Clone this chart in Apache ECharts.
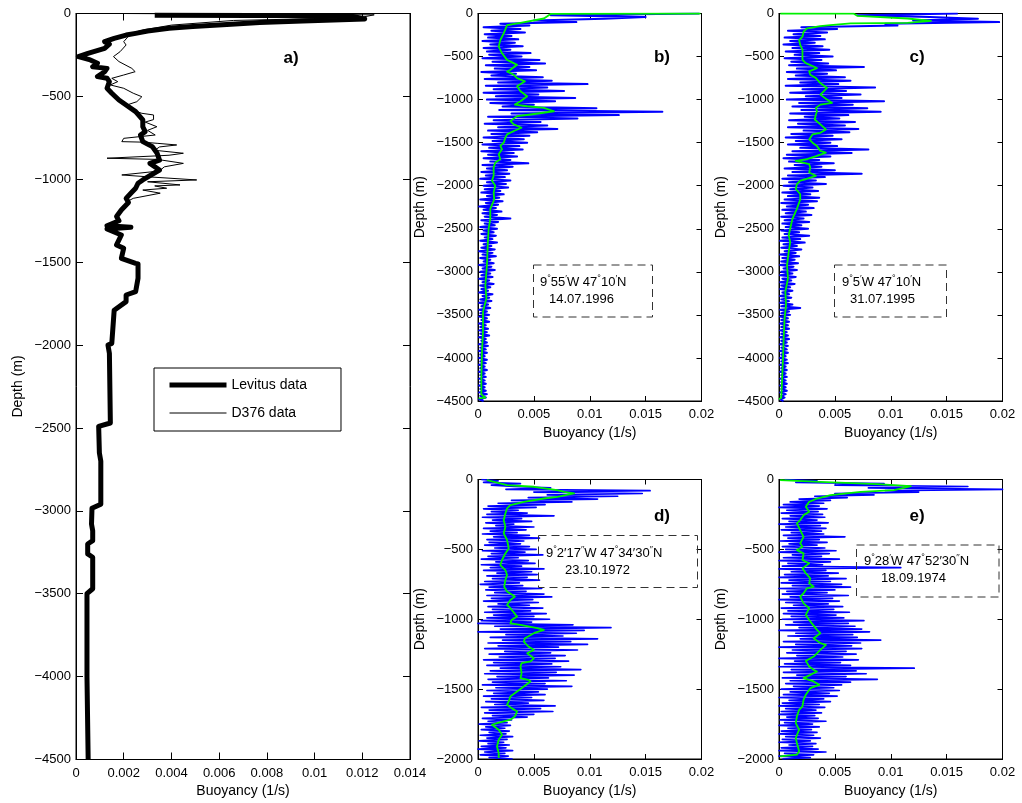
<!DOCTYPE html>
<html><head><meta charset="utf-8">
<script src="https://cdn.jsdelivr.net/npm/echarts@6/dist/echarts.min.js"></script>
<style>html,body{margin:0;padding:0;background:#fff}#c{width:1022px;height:803px}</style>
</head><body><div id="c"></div>
<script>
// All buoyancy values are in units of 1e-3 s^-1 (converted to 1/s when building series)
const DZ_DEEP = 20;     // sampling interval (m) used for panels b, c
const DZ_SHALLOW = 10;  // sampling interval (m) used for panels d, e

// panel a) Levitus climatology
const levitusVal = [3.3,11.5,12.1,9.5,7.7,6.5,4.9,3.9,3.0,2.5,2.1,1.6,1.2,1.4,1.2,0.5,0.1,0.6,0.9,0.7,1.3,1.2,0.9,1.3,1.4,1.3,1.5,1.8,2.1,2.5,2.8,2.8,2.9,2.7,2.8,3.2,3.4,3.5,3.1,3.5,2.8,2.6,2.5,2.3,2.1,2.2,1.9,1.7,1.8,1.3,2.3,1.3,1.9,1.7,2.0,1.9,2.5,2.6,2.6,2.5,2.1,2.1,1.6,1.5,1.34,1.4,1.44,0.95,0.98,1.04,1.04,0.67,0.65,0.7,0.7,0.49,0.49,0.7,0.7,0.46,0.46,0.51,0.51];
const levitusDep = [-10,-14,-33,-45,-55,-65,-78,-89,-106,-120,-130,-150,-170,-185,-210,-240,-260,-280,-300,-321,-331,-351,-381,-391,-411,-451,-481,-522,-552,-592,-642,-683,-713,-733,-773,-803,-843,-884,-904,-944,-1004,-1024,-1054,-1084,-1115,-1140,-1185,-1225,-1250,-1280,-1290,-1300,-1336,-1396,-1416,-1477,-1507,-1510,-1597,-1678,-1698,-1738,-1790,-1990,-2000,-2050,-2470,-2490,-2650,-2700,-2960,-2985,-3080,-3120,-3180,-3200,-3260,-3280,-3470,-3500,-4000,-4010,-4500];

// panel a) D376 cruise profile
const d376Val = [2.0,12.5,11.9,6.6,4.0,2.8,2.3,2.0,2.1,1.85,1.57,1.8,2.34,2.48,2.0,1.5,1.75,1.44,2.0,2.4,2.76,2.55,2.13,2.35,2.76,3.25,3.25,2.9,3.39,3.0,3.32,2.0,1.92,2.8,3.4,4.22,3.5,3.3,4.5,3.9,3.5,1.3,3.4,4.5,3.7,3.5,1.92,3.0,5.06,3.0,4.36,3.3,3.8,2.8,3.53,2.4,2.2];
const d376Dep = [0,-8,-25,-42,-70,-100,-120,-170,-190,-230,-260,-290,-331,-351,-371,-391,-411,-431,-451,-481,-502,-532,-552,-582,-602,-612,-640,-655,-683,-705,-733,-753,-773,-776,-783,-793,-805,-825,-843,-855,-858,-873,-880,-904,-925,-950,-974,-985,-1004,-1015,-1034,-1040,-1054,-1065,-1084,-1115,-1130];

// panel b) raw profile (every DZ_DEEP m)
const blueB = [19.8,6.5,15.0,11.3,5.0,8.8,2.0,4.6,0.5,3.8,
1.2,4.2,0.6,3.0,0.9,3.6,0.4,3.3,1.1,4.0,
0.5,2.9,0.8,4.7,1.0,3.9,0.4,5.5,1.3,6.0,
0.7,4.6,1.5,5.2,0.3,3.4,1.2,5.8,0.6,6.6,
1.8,9.8,0.7,6.2,1.4,7.7,0.5,5.4,1.6,8.7,
0.8,6.9,1.1,5.0,2.2,10.6,1.9,16.5,3.0,12.6,
0.9,8.9,1.4,5.6,0.6,6.2,1.8,7.1,0.9,5.3,
1.2,4.6,0.5,4.1,1.3,4.4,0.4,3.7,1.0,4.0,
0.3,3.2,0.9,3.5,0.5,2.9,1.1,4.5,0.4,3.1,
0.8,2.6,0.3,2.8,0.7,2.4,0.2,2.9,0.8,2.5,
0.5,2.7,0.6,2.0,0.3,2.3,0.8,1.9,0.2,2.2,
0.7,1.8,0.1,1.6,0.5,2.1,0.4,1.7,0.6,2.9,
0.3,1.8,0.6,1.5,0.2,1.7,0.5,1.4,0.3,1.6,
0.6,1.3,0.2,1.7,0.5,1.2,0.3,1.5,0.1,1.3,
0.4,1.6,0.2,1.1,0.5,1.4,0.1,1.2,0.4,1.5,
0.2,1.1,0.3,1.3,0.1,1.0,0.4,1.4,0.2,1.1,
0.3,0.9,0.1,1.3,0.4,1.0,0.2,1.2,0.1,0.9,
0.3,1.1,0.1,0.8,0.2,1.0,0.1,0.8,0.3,1.0,
0.1,0.7,0.2,0.9,0.1,0.8,0.2,1.0,0.1,0.7,
0.3,0.8,0.1,0.9,0.2,0.7,0.1,0.8,0.2,0.6,
0.1,0.8,0.2,0.7,0.1,0.6,0.2,0.8,0.1,0.6,
0.2,0.7,0.1,0.6,0.2,0.7,0.1,0.6,0.2,0.7,
0.1,0.8,0.2,0.7,0.1,0.5];
// panel b) smoothed profile
const greenBVal = [19.9,6.5,5.9,3.8,2.6,2.45,2.3,2.0,1.85,2.15,2.6,3.5,2.9,2.6,3.2,3.5,4.2,3.5,3.8,4.4,3.8,3.3,4.4,5.9,6.8,4.7,3.5,2.9,3.2,3.9,3.2,2.6,2.45,2.3,2.0,2.15,1.85,2.0,1.55,1.4,1.4,1.25,1.55,1.4,1.45,1.1,1.1,0.95,0.87,0.8,0.66,0.75,0.45,0.45,0.36,0.3,0.3,0.66,0.06];
const greenBDep = [0,-5,-58,-108,-135,-154,-231,-308,-385,-462,-538,-596,-654,-673,-712,-750,-788,-846,-904,-962,-1019,-1058,-1077,-1096,-1135,-1173,-1192,-1250,-1288,-1327,-1365,-1404,-1442,-1500,-1538,-1577,-1635,-1692,-1731,-1788,-1885,-1942,-2000,-2077,-2160,-2269,-2385,-2500,-2692,-2923,-3154,-3308,-3462,-3692,-3923,-4231,-4423,-4462,-4470];

// panel c) raw profile (every DZ_DEEP m)
const blueC = [16.0,7.0,13.5,17.8,12.0,19.7,9.5,10.6,2.0,5.2,
0.8,4.3,1.3,3.7,0.5,4.1,1.0,3.2,0.4,3.9,
1.2,4.5,0.6,3.6,1.4,4.8,0.5,3.8,1.1,4.4,
0.9,7.6,1.6,5.1,0.7,4.3,1.5,5.9,0.8,6.4,
1.9,5.3,0.6,8.6,2.1,6.0,1.0,7.3,2.4,5.6,
0.7,9.4,1.8,6.6,1.2,7.9,2.0,9.1,1.0,6.2,
2.3,5.4,0.9,6.8,1.7,5.9,0.8,7.1,2.2,6.3,
1.1,4.8,0.6,5.6,1.5,4.6,0.8,5.2,1.9,8.0,
1.2,6.5,0.7,4.6,0.4,3.6,0.9,4.9,1.4,3.8,
0.5,5.0,1.2,7.4,0.8,4.1,0.3,3.3,0.9,4.2,
0.4,3.0,1.0,3.5,0.3,2.8,0.8,3.6,0.5,3.4,
0.2,2.6,0.7,3.1,0.3,2.4,0.6,2.9,0.2,2.2,
0.5,2.7,0.3,2.0,0.6,2.6,0.2,1.8,0.5,2.7,
0.3,1.9,0.1,2.3,0.4,1.6,0.2,2.0,0.5,1.5,
0.1,1.8,0.3,1.4,0.2,1.7,0.1,1.3,0.4,1.6,
0.2,1.2,0.1,1.5,0.3,1.1,0.1,1.4,0.2,1.0,
0.1,1.2,0.3,0.9,0.1,1.1,0.2,0.9,0.1,1.2,
0.2,1.9,0.1,0.9,0.2,1.0,0.1,0.8,0.2,0.9,
0.1,0.8,0.2,0.9,0.1,0.7,0.2,0.8,0.1,0.9,
0.2,0.7,0.1,0.8,0.2,0.7,0.1,0.8,0.2,0.6,
0.1,0.7,0.2,0.8,0.1,0.6,0.2,0.7,0.1,0.6,
0.2,0.7,0.1,0.6,0.2,0.7,0.1,0.6,0.2,0.7,
0.1,0.6,0.2,0.5,0.1,0.4];
const greenCVal = [0.12,6.7,7.0,11.5,13.6,11.5,6.4,4.6,3.7,2.5,2.2,2.1,1.8,1.9,2.1,2.1,2.4,3.1,3.4,2.7,2.8,3.3,3.7,4.3,4.0,3.7,4.3,4.75,3.7,3.3,3.4,3.3,3.2,3.7,4.2,3.7,3.0,2.7,3.0,3.4,3.7,4.2,3.4,2.5,1.5,1.6,2.7,2.8,2.7,3.3,2.4,1.9,1.6,1.5,1.9,1.9,1.6,1.2,1.0,0.87,1.0,0.87,0.72,0.8,0.57,0.63,0.5,0.42,0.36,0.27,0.2,0.0];
const greenCDep = [0,-2,-27,-58,-85,-108,-115,-135,-146,-173,-212,-269,-308,-365,-423,-538,-577,-615,-635,-673,-712,-750,-808,-865,-904,-942,-1000,-1038,-1058,-1096,-1135,-1173,-1231,-1288,-1346,-1385,-1404,-1462,-1500,-1538,-1596,-1615,-1654,-1692,-1712,-1731,-1750,-1788,-1846,-1885,-1923,-1942,-1981,-2038,-2096,-2160,-2269,-2385,-2500,-2577,-2654,-2769,-2923,-3077,-3231,-3385,-3538,-3769,-4000,-4269,-4462,-4480];

// panel d) raw profile (every DZ_SHALLOW m)
const blueD = [0.3,1.8,0.5,3.8,1.2,3.2,6.5,2.5,15.4,5.0,
14.7,6.2,12.5,4.5,10.7,3.0,8.4,1.8,6.0,0.9,
5.2,0.5,3.6,1.2,4.4,0.8,6.8,0.4,3.9,1.3,
4.8,0.7,3.2,1.6,5.0,0.5,4.3,1.1,3.5,0.4,
4.6,1.4,5.5,0.8,4.1,1.0,3.8,0.6,4.6,1.5,
5.2,0.4,4.2,1.2,5.8,0.9,3.6,0.3,4.5,1.6,
5.1,0.3,3.9,1.1,5.9,0.5,4.8,1.7,5.3,0.8,
4.4,1.3,5.5,0.6,3.7,0.2,4.0,1.0,5.7,0.7,
4.3,1.5,5.9,0.8,6.6,1.2,4.9,0.5,5.4,1.8,
4.6,0.9,5.8,1.3,4.7,0.6,6.1,1.4,5.0,0.8,
6.4,0.3,4.8,0.0,8.5,1.5,11.9,2.0,9.5,0.0,
8.8,2.5,7.6,1.1,10.7,2.2,8.3,0.9,9.8,1.8,
7.2,0.6,8.9,2.4,6.5,1.0,7.8,1.9,6.9,0.5,
8.1,1.4,6.6,0.8,7.4,2.0,9.2,1.1,7.0,0.6,
8.6,1.7,6.3,0.9,7.9,1.3,6.0,0.4,8.4,1.6,
6.2,0.8,5.4,1.4,6.0,0.5,4.8,1.2,5.9,0.7,
4.5,1.5,6.9,0.3,5.6,1.0,6.7,0.6,5.0,1.3,
4.4,0.4,3.0,0.9,2.6,0.1,2.9,0.7,2.4,0.3,
2.8,1.0,2.5,0.2,3.1,0.8,2.6,0.1,2.3,0.9,
2.8,0.3,2.5,0.0,3.1,0.6,2.4,0.2,2.7,1.0,
3.1];
const greenDVal = [0.8,2.6,5.0,7.1,7.7,8.6,7.1,5.9,4.1,2.9,2.6,2.45,2.3,2.45,2.3,2.6,2.75,2.45,2.15,2.0,2.45,2.6,2.45,2.35,2.6,3.3,2.9,2.6,2.9,3.5,3.0,2.9,3.8,5.3,5.9,5.0,4.2,4.1,4.5,5.0,4.4,5.0,4.7,3.9,3.8,3.9,3.8,4.5,4.7,4.1,3.5,2.9,2.75,2.6,3.0,3.5,3.3,2.9,1.7,1.25,1.85,2.15,1.85,1.7,1.85,1.85];
const greenDDep = [-5,-40,-52,-76,-88,-100,-124,-136,-160,-183,-207,-243,-290,-338,-386,-433,-493,-529,-576,-612,-648,-683,-719,-767,-802,-838,-862,-898,-921,-981,-1005,-1029,-1040,-1064,-1076,-1100,-1136,-1160,-1195,-1219,-1243,-1279,-1302,-1314,-1338,-1386,-1421,-1433,-1445,-1481,-1517,-1552,-1588,-1612,-1636,-1660,-1695,-1719,-1743,-1755,-1791,-1826,-1862,-1910,-1957,-1993];

// panel e) raw profile (every DZ_SHALLOW m)
const blueE = [0.5,3.4,1.5,9.4,5.0,16.9,8.0,20.0,9.5,12.5,
5.0,8.5,3.2,6.1,1.8,4.6,1.0,4.0,0.4,3.6,
0.0,4.3,0.7,3.5,0.2,3.9,1.0,4.1,0.3,3.4,
0.9,4.4,0.0,3.7,0.6,4.2,0.2,3.8,1.1,4.0,
0.4,5.9,0.8,3.6,0.1,4.3,0.9,3.4,0.3,4.1,
0.6,5.1,0.0,4.5,1.2,3.8,0.4,5.4,0.0,4.6,
0.8,3.9,0.3,10.9,0.0,4.2,1.1,5.3,0.5,4.4,
0.0,6.0,0.9,4.6,0.2,5.6,1.2,6.4,0.0,5.0,
0.7,4.3,0.3,6.2,1.0,4.8,0.0,5.4,0.6,4.4,
1.3,5.7,0.2,4.9,0.8,6.3,0.4,5.1,1.1,5.8,
0.3,7.6,1.3,6.2,0.6,6.8,1.8,7.4,0.0,8.1,
1.5,6.6,0.8,7.0,1.9,9.1,0.4,7.3,1.5,6.5,
0.0,7.4,1.2,6.0,0.7,6.9,1.6,5.7,0.0,7.1,
1.4,5.5,0.5,6.4,0.0,12.1,1.1,6.9,0.4,7.8,
1.6,6.0,0.3,8.8,1.0,6.4,0.6,5.6,1.3,4.9,
0.2,5.4,1.0,4.5,0.4,5.2,0.0,4.0,0.9,4.6,
0.3,3.6,0.0,4.1,0.6,3.3,0.2,3.8,0.0,3.2,
0.7,3.5,0.1,4.2,0.5,3.0,0.0,3.6,0.8,2.9,
0.2,3.4,0.0,3.1,0.6,3.7,0.3,2.8,0.0,3.3,
0.9,3.0,0.2,3.5,0.0,4.2,0.5,3.1,0.0,2.8,
0.3];
const greenEVal = [0.1,3.7,8.8,11.8,10.3,7.3,4.6,3.4,2.7,2.4,2.7,2.2,1.9,1.6,1.9,2.2,1.9,2.1,1.6,2.2,2.1,2.7,2.1,2.4,2.8,2.7,3.1,2.5,2.2,1.9,2.2,2.7,2.4,2.7,3.4,3.7,3.1,3.7,4.2,3.7,3.1,2.4,2.7,3.1,3.4,2.8,2.2,3.1,3.6,2.8,2.4,2.2,2.1,1.8,1.6,1.5,1.8,1.5,1.6,1.8,1.6,0.1];
const greenEDep = [-5,-17,-33,-48,-76,-88,-112,-136,-160,-195,-231,-255,-290,-314,-362,-410,-457,-481,-505,-529,-576,-600,-636,-671,-707,-743,-767,-779,-814,-838,-886,-921,-969,-1005,-1076,-1100,-1136,-1171,-1183,-1219,-1267,-1298,-1338,-1362,-1374,-1398,-1421,-1445,-1469,-1493,-1540,-1576,-1624,-1648,-1695,-1743,-1790,-1850,-1886,-1945,-1969,-1981];

// tick settings
const xTicksA = {min:0, max:0.014, interval:0.002};
const xTicksB = {min:0, max:0.02, interval:0.005};
const yTicksDeep = {min:-4500, max:0, interval:500};
const yTicksShallow = {min:-2000, max:0, interval:500};

const pairs = (vals, deps) => vals.map((v, i) => [v * 1e-3, deps[i]]);
const profile = (vals, dz) => vals.map((v, i) => [v * 1e-3, -i * dz]);

const F = "'Liberation Sans', Arial, Helvetica, sans-serif";
const grids = [
  {left:76, top:13.5, width:334, height:746},
  {left:478, top:13.5, width:223.5, height:387.5},
  {left:779, top:13.5, width:223.5, height:387.5},
  {left:478, top:479.5, width:223.5, height:279.5},
  {left:779, top:479.5, width:223.5, height:279.5}
].map(g => Object.assign(g, {show:true, borderColor:'#000', borderWidth:1, containLabel:false, outerBoundsMode:'none'}));

const xT = [xTicksA, xTicksB, xTicksB, xTicksB, xTicksB];
const yT = [yTicksDeep, yTicksDeep, yTicksDeep, yTicksShallow, yTicksShallow];
const tickLen = [7,5,5,5,5];
const fmtX = v => String(+v.toFixed(4));
const fmtY = v => v < 0 ? '\u2212' + Math.abs(v) : String(v);

const xAxis = [], yAxis = [];
for (let i = 0; i < 5; i++) {
  xAxis.push({gridIndex:i, type:'value', position:'bottom', ...xT[i],
    axisLine:{show:true, onZero:false, lineStyle:{color:'#000', width:1}},
    axisTick:{show:true, inside:true, length:tickLen[i], lineStyle:{color:'#000'}},
    axisLabel:{color:'#000', fontSize:13, fontFamily:F, margin:7, formatter:fmtX, showMinLabel:true, showMaxLabel:true},
    splitLine:{show:false},
    name:'Buoyancy (1/s)', nameLocation:'middle', nameGap:25,
    nameTextStyle:{color:'#000', fontSize:14, fontFamily:F}});
  yAxis.push({gridIndex:i, type:'value', position:'left', ...yT[i],
    axisLine:{show:true, onZero:false, lineStyle:{color:'#000', width:1}},
    axisTick:{show:true, inside:true, length:tickLen[i], lineStyle:{color:'#000'}},
    axisLabel:{color:'#000', fontSize:13, fontFamily:F, margin:5, formatter:fmtY, showMinLabel:true, showMaxLabel:true},
    splitLine:{show:false},
    name:'Depth (m)', nameLocation:'middle', nameGap:51, nameRotate:90,
    nameTextStyle:{color:'#000', fontSize:14, fontFamily:F}});
}
for (let i = 0; i < 5; i++) {
  xAxis.push({gridIndex:i, type:'value', position:'top', ...xT[i],
    axisLine:{show:true, onZero:false, lineStyle:{color:'#000', width:1}},
    axisTick:{show:true, inside:true, length:tickLen[i], lineStyle:{color:'#000'}},
    axisLabel:{show:false}, splitLine:{show:false}});
  yAxis.push({gridIndex:i, type:'value', position:'right', ...yT[i],
    axisLine:{show:true, onZero:false, lineStyle:{color:'#000', width:1}},
    axisTick:{show:true, inside:true, length:tickLen[i], lineStyle:{color:'#000'}},
    axisLabel:{show:false}, splitLine:{show:false}});
}

const line = (name, data, idx, color, width, z) => ({
  name, type:'line', xAxisIndex:idx, yAxisIndex:idx, data,
  showSymbol:false, symbol:'none', sampling:null, clip:true, z,
  lineStyle:{color, width, join:'round'}, itemStyle:{color}, animation:false
});

const BLUE = '#0000ff', GREEN = '#00f000';
const series = [
  line('D376 data', pairs(d376Val, d376Dep), 0, '#000', 1, 2),
  line('Levitus data', pairs(levitusVal, levitusDep), 0, '#000', 5, 3),
  line('raw b', profile(blueB, DZ_DEEP), 1, BLUE, 2, 2),
  line('smooth b', pairs(greenBVal, greenBDep), 1, GREEN, 1.8, 3),
  line('raw c', profile(blueC, DZ_DEEP), 2, BLUE, 2, 2),
  line('smooth c', pairs(greenCVal, greenCDep), 2, GREEN, 1.8, 3),
  line('raw d', profile(blueD, DZ_SHALLOW), 3, BLUE, 1.7, 2),
  line('smooth d', pairs(greenDVal, greenDDep), 3, GREEN, 1.8, 3),
  line('raw e', profile(blueE, DZ_SHALLOW), 4, BLUE, 1.7, 2),
  line('smooth e', pairs(greenEVal, greenEDep), 4, GREEN, 1.8, 3)
];

const label = (t, x, y) => ({type:'text', x, y, z:10,
  style:{text:t, font:'bold 17px ' + F, fill:'#000', align:'center', verticalAlign:'middle'}});
const box = (x, y, w, h) => ({type:'rect', z:10, shape:{x, y, width:w, height:h},
  style:{fill:'none', stroke:'#333', lineWidth:1, lineDash:[8,5]}});
const rich = {s:{fontSize:9, fontFamily:F, fill:'#000', verticalAlign:'top', lineHeight:15}, n:{fontSize:13, fontFamily:F, lineHeight:15}};
const txt = (t, x, y) => ({type:'text', x, y, z:10,
  style:{text:t, rich, font:'13px ' + F, fill:'#000', align:'left', verticalAlign:'middle'}});

const graphic = [
  label('a)', 291, 58), label('b)', 662, 57), label('c)', 917, 57),
  label('d)', 662, 516), label('e)', 917, 516),
  box(533.5, 265, 119, 52), txt('{n|9}{s|°}{n|55}{s|′}{n|W 47}{s|°}{n|10}{s|′}{n|N}', 540, 282), txt('14.07.1996', 549, 299),
  box(834.5, 265, 112, 52), txt('{n|9}{s|°}{n|5}{s|′}{n|W 47}{s|°}{n|10}{s|′}{n|N}', 842, 282), txt('31.07.1995', 850, 299),
  box(538.5, 535.5, 159, 52), txt('{n|9}{s|°}{n|2′17}{s|′′}{n|W 47}{s|°}{n|34′30}{s|′′}{n|N}', 546, 553), txt('23.10.1972', 565, 570),
  box(856.5, 545, 142.5, 52), txt('{n|9}{s|°}{n|28}{s|′}{n|W 47}{s|°}{n|52′30}{s|′′}{n|N}', 864, 561), txt('18.09.1974', 881, 578)
];

const chart = echarts.init(document.getElementById('c'), null, {renderer:'canvas'});
chart.setOption({
  animation:false,
  backgroundColor:'#fff',
  textStyle:{fontFamily:F},
  grid:grids, xAxis, yAxis, series, graphic,
  legend:{
    data:[
      {name:'Levitus data', lineStyle:{width:5, color:'#000'}, itemStyle:{opacity:0}},
      {name:'D376 data', lineStyle:{width:1, color:'#000'}, itemStyle:{opacity:0}}
    ],
    orient:'vertical', left:154, top:368,
    itemWidth:57, itemHeight:14, itemGap:14, itemStyle:{opacity:0},
    padding:[10,34,11,13],
    borderColor:'#000', borderWidth:1, backgroundColor:'#fff',
    textStyle:{color:'#000', fontSize:14, fontFamily:F}, selectedMode:false}
});
</script>
</body></html>
